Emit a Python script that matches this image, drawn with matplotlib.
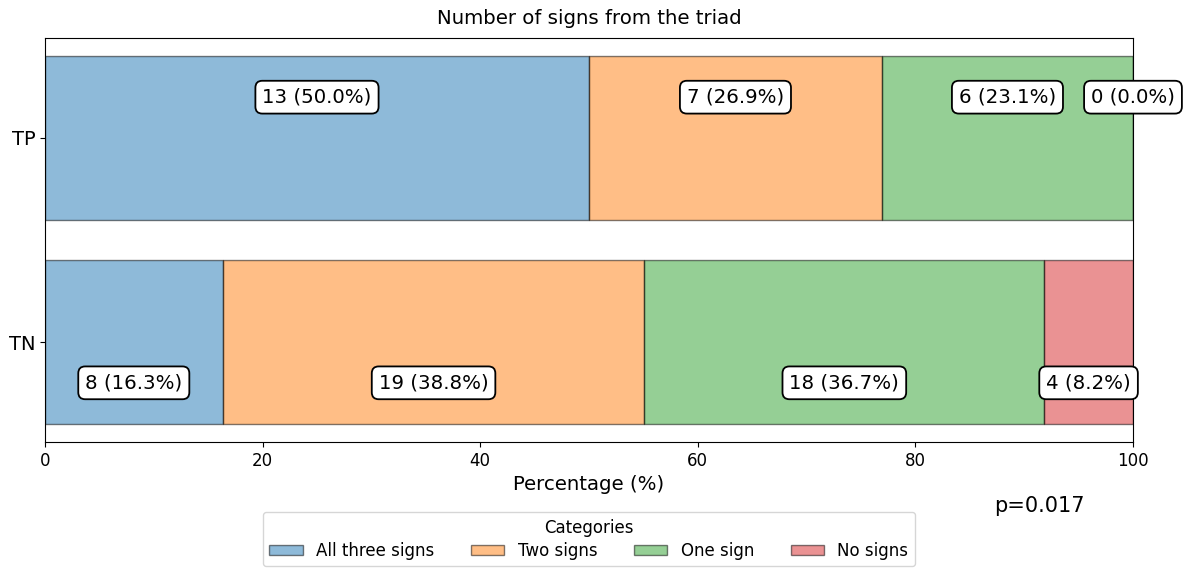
import numpy as np
import matplotlib
matplotlib.use('Agg')
from matplotlib import pyplot as plt

groups = ['TP', 'TN']
categories = ['All three signs', 'Two signs', 'One sign', 'No signs']
counts_tp = [13, 7, 6, 0]
counts_tn = [8, 19, 18, 4]
colors = ['tab:blue', 'tab:orange', 'tab:green', 'tab:red']
label_offsets = [0.2, -0.2]  # TP labels above centre, TN below
p_text = 'p=0.017'


def main():
    counts = np.array([counts_tp, counts_tn], dtype=float)
    pct = counts / counts.sum(axis=1, keepdims=True) * 100
    ypos = np.array([1, 0])

    fig = plt.figure(figsize=(11.87, 5.69), dpi=100)
    ax = fig.add_axes([0.0379, 0.2232, 0.9166, 0.71])

    left = np.zeros(len(groups))
    for j, cat in enumerate(categories):
        ax.barh(ypos, pct[:, j], left=left, height=0.8, color=colors[j],
                alpha=0.5, edgecolor='black', linewidth=1, label=cat)
        for i in range(len(groups)):
            xc = left[i] + pct[i, j] / 2
            ax.text(xc, ypos[i] + label_offsets[i],
                    f'{int(counts[i, j])} ({pct[i, j]:.1f}%)',
                    ha='center', va='center', fontsize=14.2,
                    bbox=dict(boxstyle='round,pad=0.35', facecolor='white',
                              edgecolor='black', linewidth=1.3))
        left = left + pct[:, j]

    ax.set_xlim(0, 100)
    ax.set_yticks(ypos)
    ax.set_yticklabels(groups, fontsize=14)
    ax.tick_params(axis='x', labelsize=12)
    ax.set_xlabel('Percentage (%)', fontsize=14.2)
    ax.set_title('Number of signs from the triad', fontsize=14.2, pad=10)

    fig.legend(loc='upper center', bbox_to_anchor=(0.496, 0.1), ncol=4,
               title='Categories', fontsize=12, title_fontsize=12,
               frameon=True, borderaxespad=0, borderpad=0.4,
               labelspacing=0.3, handleheight=0.6, columnspacing=2.2)
    fig.text(0.876, 0.111, p_text, ha='center', va='center', fontsize=15)

    plt.savefig('out.png', dpi=100)


if __name__ == '__main__':
    main()
